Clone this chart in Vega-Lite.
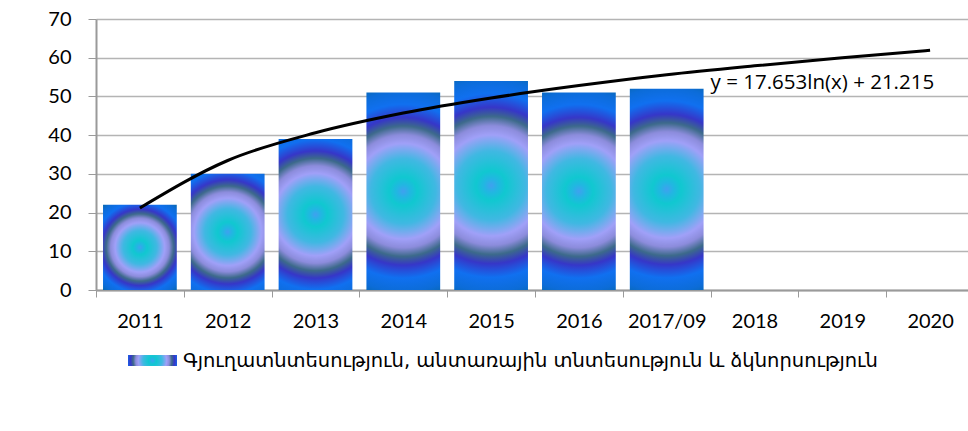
{
  "$schema": "https://vega.github.io/schema/vega-lite/v6.json",
  "width": 872,
  "height": 271,
  "autosize": {"type": "none"},
  "padding": {"left": 96, "top": 19, "right": 0, "bottom": 141},
  "background": "white",
  "config": {
    "view": {"stroke": null},
    "axis": {"labelFont": "Lato", "labelFontSize": 20, "labelColor": "#000000", "titleFont": "Lato"},
    "axisY": {
      "title": null,
      "values": [0, 10, 20, 30, 40, 50, 60, 70],
      "grid": true,
      "gridColor": "#b4b4b4",
      "gridWidth": 1.5,
      "domainColor": "#9a9a9a",
      "domainWidth": 2,
      "tickColor": "#9a9a9a",
      "tickSize": 8,
      "labelPadding": 17
    }
  },
  "datasets": {
    "bars": [
      {"year": "2011", "value": 22, "series": "Գյուղատնտեսություն, անտառային տնտեսություն և ձկնորսություն"},
      {"year": "2012", "value": 30, "series": "Գյուղատնտեսություն, անտառային տնտեսություն և ձկնորսություն"},
      {"year": "2013", "value": 39, "series": "Գյուղատնտեսություն, անտառային տնտեսություն և ձկնորսություն"},
      {"year": "2014", "value": 51, "series": "Գյուղատնտեսություն, անտառային տնտեսություն և ձկնորսություն"},
      {"year": "2015", "value": 54, "series": "Գյուղատնտեսություն, անտառային տնտեսություն և ձկնորսություն"},
      {"year": "2016", "value": 51, "series": "Գյուղատնտեսություն, անտառային տնտեսություն և ձկնորսություն"},
      {"year": "2017/09", "value": 52, "series": "Գյուղատնտեսություն, անտառային տնտեսություն և ձկնորսություն"}
    ],
    "trend": [
      {"year": "2011", "trend": 21.2},
      {"year": "2012", "trend": 33.45},
      {"year": "2013", "trend": 40.6},
      {"year": "2014", "trend": 45.7},
      {"year": "2015", "trend": 49.6},
      {"year": "2016", "trend": 52.8},
      {"year": "2017/09", "trend": 55.6},
      {"year": "2018", "trend": 57.9},
      {"year": "2019", "trend": 60.0},
      {"year": "2020", "trend": 61.9}
    ],
    "label": [
      {"year": "2018", "y": 53.5, "text": "y = 17.653ln(x) + 21.215"}
    ]
  },
  "encoding": {
    "x": {
      "field": "year",
      "type": "nominal",
      "sort": null,
      "scale": {
        "domain": ["2011", "2012", "2013", "2014", "2015", "2016", "2017/09", "2018", "2019", "2020"],
        "range": [0, 878],
        "paddingInner": 0,
        "paddingOuter": 0
      },
      "axis": {
        "title": null,
        "labelAngle": 0,
        "tickBand": "extent",
        "ticks": true,
        "tickSize": 7,
        "tickColor": "#9a9a9a",
        "tickWidth": 1,
        "domainColor": "#9a9a9a",
        "domainWidth": 2,
        "labelPadding": 14,
        "grid": false
      }
    }
  },
  "layer": [
    {
      "data": {"name": "bars"},
      "transform": [{"filter": "datum.year == '2011' || datum.year == '2012'"}],
      "mark": {
        "type": "bar",
        "width": {"band": 0.84},
        "fill": {
          "gradient": "radial",
          "x1": 0.5, "y1": 0.5, "r1": 0,
          "x2": 0.5, "y2": 0.5, "r2": 0.66,
          "stops": [
            {"offset": 0, "color": "#40a0f0"},
            {"offset": 0.06, "color": "#22b6e2"},
            {"offset": 0.13, "color": "#10c8d0"},
            {"offset": 0.3, "color": "#40b8e2"},
            {"offset": 0.44, "color": "#a0a0f8"},
            {"offset": 0.52, "color": "#8c8cdc"},
            {"offset": 0.6, "color": "#3c6a8a"},
            {"offset": 0.68, "color": "#3636c8"},
            {"offset": 0.8, "color": "#1070f0"},
            {"offset": 0.92, "color": "#0c6cd8"},
            {"offset": 1, "color": "#0868b0"}
          ]
        }
      },
      "encoding": {
        "y": {
          "field": "value",
          "type": "quantitative",
          "scale": {"domain": [0, 70], "nice": false},
          "axis": {"title": null, "values": [0, 10, 20, 30, 40, 50, 60, 70]}
        },
        "opacity": {
          "field": "series",
          "type": "nominal",
          "scale": {"range": [1]},
          "legend": {
            "title": null,
            "orient": "none",
            "legendX": 32,
            "legendY": 317,
            "direction": "horizontal",
            "symbolType": "M-1,-0.225H1V0.225H-1Z",
            "symbolSize": 2401,
            "symbolStrokeWidth": 0,
            "labelFont": "DejaVu Sans",
            "labelFontSize": 19.5,
            "labelColor": "#000000",
            "labelOffset": 6,
            "labelLimit": 900,
            "encode": {
              "symbols": {
                "update": {
                  "fill": {"value": {
                    "gradient": "radial",
                    "x1": 0.5, "y1": 0.5, "r1": 0,
                    "x2": 0.5, "y2": 0.5, "r2": 0.5,
                    "stops": [
                      {"offset": 0, "color": "#40a0f0"},
                      {"offset": 0.13, "color": "#10c8d0"},
                      {"offset": 0.3, "color": "#40b8e2"},
                      {"offset": 0.44, "color": "#a0a0f8"},
                      {"offset": 0.6, "color": "#3c6a8a"},
                      {"offset": 0.68, "color": "#3636c8"},
                      {"offset": 0.8, "color": "#1070f0"},
                      {"offset": 1, "color": "#0868b0"}
                    ]
                  }},
                  "opacity": {"value": 1},
                  "strokeWidth": {"value": 0}
                }
              }
            }
          }
        }
      }
    },
    {
      "data": {"name": "bars"},
      "transform": [{"filter": "datum.year == '2013'"}],
      "mark": {
        "type": "bar",
        "width": {"band": 0.84},
        "fill": {
          "gradient": "radial",
          "x1": 0.5, "y1": 0.5, "r1": 0,
          "x2": 0.5, "y2": 0.5, "r2": 0.62,
          "stops": [
            {"offset": 0, "color": "#40a0f0"},
            {"offset": 0.06, "color": "#22b6e2"},
            {"offset": 0.13, "color": "#10c8d0"},
            {"offset": 0.3, "color": "#40b8e2"},
            {"offset": 0.44, "color": "#a0a0f8"},
            {"offset": 0.52, "color": "#8c8cdc"},
            {"offset": 0.6, "color": "#3c6a8a"},
            {"offset": 0.68, "color": "#3636c8"},
            {"offset": 0.8, "color": "#1070f0"},
            {"offset": 0.92, "color": "#0c6cd8"},
            {"offset": 1, "color": "#0868b0"}
          ]
        }
      },
      "encoding": {
        "y": {"field": "value", "type": "quantitative", "axis": {"title": null, "values": [0, 10, 20, 30, 40, 50, 60, 70]}},
        "opacity": {"field": "series", "type": "nominal"}
      }
    },
    {
      "data": {"name": "bars"},
      "transform": [{"filter": "datum.value > 45"}],
      "mark": {
        "type": "bar",
        "width": {"band": 0.84},
        "fill": {
          "gradient": "radial",
          "x1": 0.5, "y1": 0.5, "r1": 0,
          "x2": 0.5, "y2": 0.5, "r2": 0.55,
          "stops": [
            {"offset": 0, "color": "#40a0f0"},
            {"offset": 0.06, "color": "#22b6e2"},
            {"offset": 0.13, "color": "#10c8d0"},
            {"offset": 0.3, "color": "#40b8e2"},
            {"offset": 0.44, "color": "#a0a0f8"},
            {"offset": 0.52, "color": "#8c8cdc"},
            {"offset": 0.6, "color": "#3c6a8a"},
            {"offset": 0.68, "color": "#3636c8"},
            {"offset": 0.8, "color": "#1070f0"},
            {"offset": 0.92, "color": "#0c6cd8"},
            {"offset": 1, "color": "#0868b0"}
          ]
        }
      },
      "encoding": {
        "y": {"field": "value", "type": "quantitative", "axis": {"title": null, "values": [0, 10, 20, 30, 40, 50, 60, 70]}},
        "opacity": {"field": "series", "type": "nominal"}
      }
    },
    {
      "data": {"name": "trend"},
      "mark": {"type": "line", "color": "#000000", "strokeWidth": 3, "interpolate": "monotone"},
      "encoding": {
        "y": {"field": "trend", "type": "quantitative", "axis": {"title": null, "values": [0, 10, 20, 30, 40, 50, 60, 70]}}
      }
    },
    {
      "data": {"name": "label"},
      "mark": {"type": "text", "align": "left", "baseline": "middle", "font": "Open Sans", "fontSize": 20.5, "color": "#000000"},
      "encoding": {
        "x": {"field": "year", "type": "nominal", "bandPosition": 0},
        "y": {"field": "y", "type": "quantitative", "axis": {"title": null, "values": [0, 10, 20, 30, 40, 50, 60, 70]}},
        "text": {"field": "text"}
      }
    }
  ]
}
